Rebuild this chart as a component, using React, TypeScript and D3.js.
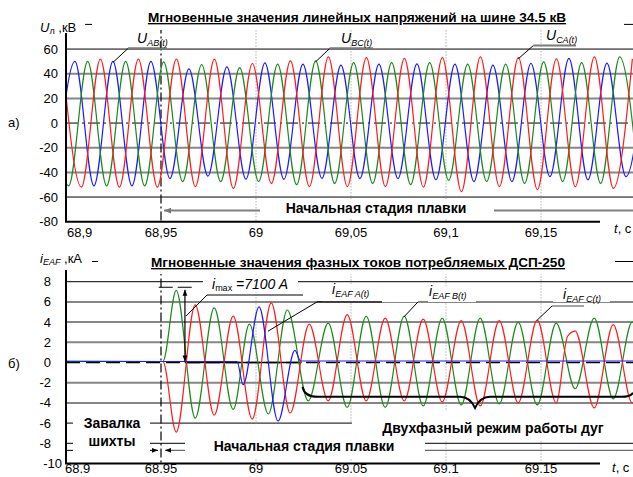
import React from 'react';
import * as d3 from 'd3';

type Pt = [number, number];

// time ticks
const tickTimes = [68.9, 68.95, 69, 69.05, 69.1, 69.15];
const tickLabelsU = ['68,9', '68,95', '69', '69,05', '69,1', '69,15'];
const tickLabelsI = ['68.9', '68.95', '69', '69.05', '69.1', '69.15'];
const uTicks = [80, 60, 40, 20, 0, -20, -40, -60, -80];
const iTicks = [10, 8, 6, 4, 2, 0, -2, -4, -6, -8, -10];

// line voltages, kV: extremum points [t, value]
const uAB: Pt[] = [
    [68.8947, -51], [68.9047, 50], [68.9147, -51], [68.9247, 50], [68.9347, -51], [68.9447, 50],
    [68.9547, -45], [68.9647, 44], [68.9747, -43], [68.9847, 45.5], [68.9947, -45.5], [69.0047, 48.8],
    [69.0147, -45.6], [69.0247, 47.8], [69.0347, -44.8], [69.0447, 47], [69.0547, -45], [69.0647, 47.8],
    [69.0747, -45], [69.0847, 48], [69.0947, -46], [69.1047, 47.8], [69.1147, -47.5], [69.1247, 47],
    [69.1347, -47.5], [69.1447, 48.5], [69.1547, -43.5], [69.1647, 52.4], [69.1747, -46], [69.1847, 48.6],
    [69.1947, -43.5], [69.2047, 48],
];
const uBC: Pt[] = [
    [68.8914, 50], [68.9014, -51], [68.9114, 50], [68.9214, -51], [68.9314, 50], [68.9414, -51],
    [68.9514, 49.6], [68.9614, -47.5], [68.9714, 47.5], [68.9814, -47.5], [68.9914, 45], [69.0014, -47.5],
    [69.0114, 47.8], [69.0214, -50], [69.0314, 50.5], [69.0414, -49], [69.0514, 49], [69.0614, -49],
    [69.0714, 49], [69.0814, -50], [69.0914, 49], [69.1014, -46.5], [69.1114, 47.8], [69.1214, -47.5],
    [69.1314, 47.8], [69.1414, -49], [69.1514, 49.6], [69.1614, -47.5], [69.1714, 49], [69.1814, -49],
    [69.1914, 53.7], [69.2014, -48],
];
const uCA: Pt[] = [
    [68.8981, 51], [68.9081, -52], [68.9181, 51.8], [68.9281, -52], [68.9381, 51.8], [68.9481, -52],
    [68.9581, 51.8], [68.9681, -51.5], [68.9781, 51.8], [68.9881, -53], [68.9981, 48.3], [69.0081, -49],
    [69.0181, 50.5], [69.0281, -51.5], [69.0381, 53.7], [69.0481, -51.5], [69.0581, 53], [69.0681, -51.5],
    [69.0781, 52.5], [69.0881, -52], [69.0981, 53], [69.1081, -55.6], [69.1181, 53.7], [69.1281, -51.5],
    [69.1381, 53], [69.1481, -54], [69.1581, 52], [69.1681, -51.5], [69.1781, 53.7], [69.1881, -53],
    [69.1981, 52],
];

// EAF phase currents, kA
const iA: Pt[] = [
    [68.9, 0.1], [68.99, 0.1], [68.9932, -2.2], [69.0016, 5.5], [69.0116, -5.8], [69.0205, 1.2],
    [69.0235, 0.15], [69.21, 0.15],
];
const iB: Pt[] = [
    [68.9, 0.15], [68.951, 0.1], [68.958, 7.15], [68.968, -5.5], [68.978, 5.4], [68.988, -4.65],
    [68.9965, 3.8], [69.0065, -5.1], [69.0165, 5.2], [69.0275, -3.8], [69.038, 3.9], [69.048, -4.45],
    [69.058, 4.6], [69.068, -4.45], [69.078, 4.6], [69.088, -4.3], [69.098, 4.4], [69.108, -4.2],
    [69.118, 4.4], [69.128, -4.1], [69.138, 4.0], [69.148, -4.2], [69.158, 3.9], [69.168, -2.6],
    [69.178, 4.4], [69.188, -3.6], [69.198, 4.0], [69.208, -4.0],
];
const iC: Pt[] = [
    [68.9, 0.1], [68.951, 0.1], [68.958, -6.9], [68.968, 5.7], [68.978, -5.2], [68.988, 4.6],
    [68.998, -5.6], [69.008, 5.9], [69.018, -5.0], [69.028, 3.8], [69.038, -3.8], [69.048, 4.75],
    [69.058, -3.8], [69.068, 4.4], [69.078, -3.8], [69.088, 4.3], [69.098, -3.9], [69.108, 4.15],
    [69.118, -4.3], [69.128, 4.15], [69.138, -4.0], [69.148, 4.2], [69.158, -4.0], [69.164, 2.6],
    [69.168, 3.1], [69.178, -4.5], [69.188, 3.75], [69.198, -4.0], [69.208, 3.8],
];

const uBlack = [80, 60, -60];
const iBlack = [10, 8, -6, -8];

const BLUE = '#1c1cff';
const GREEN = '#1b8a1b';
const RED = '#ff1c1c';
const GRID = '#868686';
const FONT = 'Arial, "Liberation Sans", sans-serif';

export default function App() {
    const x = d3.scaleLinear().domain([68.9, 69.2]).range([66, 636]);
    const yU = d3.scaleLinear().domain([-80, 80]).range([221.7, 24.4]);
    const yI = d3.scaleLinear().domain([-10, 10]).range([463.5, 261.5]);
    const lineU = d3.line<Pt>().x((d) => x(d[0])).y((d) => yU(d[1])).curve(d3.curveMonotoneX);
    const lineI = d3.line<Pt>().x((d) => x(d[0])).y((d) => yI(d[1])).curve(d3.curveMonotoneX);
    const x0 = x(68.9);
    const xEnd = 633;
    const axisEnd = 600;

    const grid = (ticks: number[], y: d3.ScaleLinear<number, number>, black: number[], zeroDash: string, zeroW: number) =>
        ticks.slice(0, -1).map((v) => {
            if (v === 0)
                return <line key={v} x1={x0} x2={xEnd} y1={y(0)} y2={y(0)} stroke="#000" strokeWidth={zeroW} strokeDasharray={zeroDash} />;
            const dark = black.includes(v);
            return <line key={v} x1={x0} x2={xEnd} y1={y(v)} y2={y(v)} stroke={dark ? '#000' : GRID} strokeWidth={dark ? 1 : 2} />;
        });

    const verticals = (y: d3.ScaleLinear<number, number>) =>
        tickTimes.slice(1).map((t) => {
            const [lo, hi] = y.domain();
            const dashDot = t === 68.95;
            return (
                <line
                    key={t}
                    x1={x(t)} x2={x(t)} y1={y(hi)} y2={y(lo)}
                    stroke={dashDot ? '#000' : '#8a8a8a'}
                    strokeWidth={dashDot ? 1.2 : 1}
                    strokeDasharray={dashDot ? '9,3,2,3' : '1,2'}
                />
            );
        });

    const sub = 9;

    return (
        <div style={{ position: 'absolute', left: 0, top: 0 }}>
            <svg width={633} height={477} style={{ display: 'block', background: '#fff' }} fontFamily={FONT}>
                <defs>
                    <clipPath id="clipU">
                        <rect x={x0} y={yU(80)} width={xEnd - x0} height={yU(-80) - yU(80)} />
                    </clipPath>
                    <clipPath id="clipI">
                        <rect x={x0} y={yI(10)} width={xEnd - x0} height={yI(-10) - yI(10)} />
                    </clipPath>
                    <marker id="ahBlack" viewBox="0 0 10 10" refX={10} refY={5} markerWidth={7} markerHeight={6} orient="auto-start-reverse" markerUnits="userSpaceOnUse">
                        <path d="M0,1L10,5L0,9z" fill="#000" />
                    </marker>
                    <marker id="ahGray" viewBox="0 0 10 10" refX={10} refY={5} markerWidth={9} markerHeight={7} orient="auto-start-reverse" markerUnits="userSpaceOnUse">
                        <path d="M0,1L10,5L0,9z" fill="#777" />
                    </marker>
                </defs>

                {/* ===== panel a) line voltages ===== */}
                <g>
                    {grid(uTicks, yU, uBlack, '12,4,2,4', 1)}
                    {verticals(yU)}
                    <g clipPath="url(#clipU)" fill="none" strokeWidth={1.2}>
                        <path d={lineU(uAB) || ''} stroke={BLUE} />
                        <path d={lineU(uBC) || ''} stroke={GREEN} />
                        <path d={lineU(uCA) || ''} stroke={RED} />
                    </g>
                    <line x1={x0} x2={x0} y1={yU(80)} y2={yU(-80)} stroke="#000" strokeWidth={2} />
                    <line x1={x0 - 1} x2={axisEnd} y1={yU(-80)} y2={yU(-80)} stroke="#000" strokeWidth={2} />
                    {uTicks.slice(1).map((v) => (
                        <text key={v} x={58} y={yU(v) + 4.5} fontSize={13} textAnchor="end">{v}</text>
                    ))}
                    {tickTimes.map((t, i) => (
                        <text key={t} x={i === 0 ? x0 + 1 : x(t)} y={237} fontSize={13} textAnchor={i === 0 ? 'start' : 'middle'}>
                            {tickLabelsU[i]}
                        </text>
                    ))}
                    <text x={614} y={233} fontSize={13}><tspan fontStyle="italic">t</tspan>, с</text>
                    <text x={8} y={127} fontSize={13}>а)</text>

                    {/* stage arrow */}
                    <line x1={xEnd} x2={x(68.95) + 3} y1={yU(-71)} y2={yU(-71)} stroke="#808080" strokeWidth={2} markerEnd="url(#ahGray)" />
                    <rect x={260} y={199} width={234} height={20} fill="#fff" />
                    <text x={376} y={213} fontSize={14} fontWeight="bold" textAnchor="middle">Начальная стадия плавки</text>

                    {/* header */}
                    <rect x={36} y={12} width={49} height={21} fill="#fff" />
                    <rect x={92} y={6} width={532} height={24} fill="#fff" />
                    <text x={40} y={32} fontSize={13}>
                        <tspan fontStyle="italic">U</tspan>
                        <tspan fontSize={sub} dy={2}>л</tspan>
                        <tspan dy={-2}> ,кВ</tspan>
                    </text>
                    <text x={357} y={22} fontSize={13.6} fontWeight="bold" textAnchor="middle" textDecoration="underline">
                        Мгновенные значения линейных напряжений на шине 34.5 кВ
                    </text>

                    {/* curve labels */}
                    <line x1={x(68.9247)} y1={yU(50) + 1} x2={x(68.9247) + 15} y2={48.5} stroke="#000" />
                    <line x1={x(68.9247) + 15} y1={48.5} x2={167} y2={48.5} stroke="#7a7a7a" strokeWidth={2.5} />
                    <text x={137} y={43} fontSize={14}>
                        <tspan fontStyle="italic">U</tspan>
                        <tspan fontStyle="italic" fontSize={sub} dy={3}>AB(t)</tspan>
                    </text>
                    <line x1={x(69.0314)} y1={yU(50.5) + 1} x2={x(69.0314) + 14} y2={48.5} stroke="#000" />
                    <line x1={x(69.0314) + 14} y1={48.5} x2={373} y2={48.5} stroke="#7a7a7a" strokeWidth={2.5} />
                    <text x={341} y={43} fontSize={14}>
                        <tspan fontStyle="italic">U</tspan>
                        <tspan fontStyle="italic" fontSize={sub} dy={3}>BC(t)</tspan>
                    </text>
                    <line x1={x(69.1381)} y1={yU(53) + 1} x2={x(69.1381) + 15} y2={45.5} stroke="#000" />
                    <line x1={x(69.1381) + 15} y1={45.5} x2={576} y2={45.5} stroke="#7a7a7a" strokeWidth={2} />
                    <text x={546} y={40} fontSize={14}>
                        <tspan fontStyle="italic">U</tspan>
                        <tspan fontStyle="italic" fontSize={sub} dy={3}>CA(t)</tspan>
                    </text>
                </g>

                {/* ===== panel б) EAF currents ===== */}
                <g>
                    {grid(iTicks, yI, iBlack, '14,6', 1.5)}
                    {verticals(yI)}
                    <line x1={x(68.9625)} x2={x(69.024)} y1={yI(0)} y2={yI(0)} stroke="#000" strokeWidth={1.5} />
                    <g clipPath="url(#clipI)" fill="none" strokeWidth={1.2}>
                        <path d={lineI(iB) || ''} stroke={GREEN} />
                        <path d={lineI(iC) || ''} stroke={RED} />
                        <path d={lineI(iA) || ''} stroke={BLUE} />
                    </g>
                    <line x1={x0} x2={x0} y1={yI(10)} y2={yI(-10)} stroke="#000" strokeWidth={2} />
                    <line x1={x0 - 1} x2={axisEnd} y1={yI(-10)} y2={yI(-10)} stroke="#000" strokeWidth={2} />
                    {iTicks.slice(1).map((v, i, arr) => (
                        <text key={v} x={i === arr.length - 1 ? 62 : 51} y={yI(v) + 4.5} fontSize={13} textAnchor="end">{v}</text>
                    ))}
                    {tickTimes.map((t, i) => (
                        <text key={t} x={i === 0 ? x0 - 1 : x(t)} y={473} fontSize={13} textAnchor={i === 0 ? 'start' : 'middle'}>
                            {tickLabelsI[i]}
                        </text>
                    ))}
                    <text x={612} y={472} fontSize={13}><tspan fontStyle="italic">t</tspan>, с</text>
                    <text x={8} y={368} fontSize={13}>б)</text>

                    {/* imax marker */}
                    <line x1={x(68.9488)} x2={x(68.9665)} y1={yI(7.45)} y2={yI(7.45)} stroke="#000" strokeDasharray="14,5" />
                    <line x1={x(68.9626)} x2={x(68.9626)} y1={yI(0.1)} y2={yI(7.2)} stroke="#000" strokeWidth={1.2} markerStart="url(#ahBlack)" markerEnd="url(#ahBlack)" />

                    {/* stage arrows */}
                    <line x1={x0} x2={x(68.95) - 3} y1={yI(-8.7)} y2={yI(-8.7)} stroke="#000" markerEnd="url(#ahBlack)" />
                    <line x1={xEnd} x2={x(68.95) + 4} y1={yI(-8.7)} y2={yI(-8.7)} stroke="#6a6a6a" strokeWidth={1.3} markerEnd="url(#ahBlack)" />

                    {/* two-phase brace */}
                    <path
                        d={`M${x(69.0245)},${yI(-2.4)} Q${x(69.0255)},${yI(-3.4)} ${x(69.0325)},${yI(-3.4)} L${x(69.1075)},${yI(-3.4)} Q${x(69.1125)},${yI(-3.4)} ${x(69.1153)},${yI(-4.5)} Q${x(69.118)},${yI(-3.4)} ${x(69.123)},${yI(-3.4)} L${x(69.1925)},${yI(-3.4)} Q${x(69.197)},${yI(-3.4)} ${xEnd},${yI(-3.0)}`}
                        fill="none" stroke="#000" strokeWidth={2}
                    />

                    {/* text boxes */}
                    <rect x={73} y={412} width={77} height={44} fill="#fff" />
                    <rect x={185} y={424} width={240} height={34} fill="#fff" />
                    <rect x={352} y={411} width={281} height={30} fill="#fff" />
                    <text x={112} y={428} fontSize={14} fontWeight="bold" textAnchor="middle">Завалка</text>
                    <text x={112} y={446} fontSize={14} fontWeight="bold" textAnchor="middle">шихты</text>
                    <text x={304} y={451} fontSize={14} fontWeight="bold" textAnchor="middle">Начальная стадия плавки</text>
                    <text x={493} y={433} fontSize={14} fontWeight="bold" textAnchor="middle">Двухфазный режим работы дуг</text>

                    {/* header */}
                    <rect x={36} y={248} width={56} height={22} fill="#fff" />
                    <rect x={98} y={248} width={517} height={26} fill="#fff" />
                    <text x={40} y={263} fontSize={13}>
                        <tspan fontStyle="italic">i</tspan>
                        <tspan fontStyle="italic" fontSize={sub} dy={2}>EAF</tspan>
                        <tspan dy={-2}> ,кА</tspan>
                    </text>
                    <text x={358} y={267} fontSize={13.6} fontWeight="bold" textAnchor="middle" textDecoration="underline">
                        Мгновенные значения фазных токов потребляемых ДСП-250
                    </text>

                    {/* imax label */}
                    <rect x={203} y={276} width={95} height={16} fill="#fff" />
                    <line x1={x(68.9632)} y1={yI(4.6)} x2={207} y2={295} stroke="#000" />
                    <line x1={207} y1={295} x2={303} y2={295} stroke="#555" strokeWidth={1.3} />
                    <text x={212} y={289} fontSize={14}>
                        <tspan fontStyle="italic">i</tspan>
                        <tspan fontSize={sub} dy={2}>max</tspan>
                        <tspan fontStyle="italic" dy={-2}> =7100 A</tspan>
                    </text>

                    {/* phase labels */}
                    <rect x={322} y={285} width={99} height={17} fill="#fff" />
                    <line x1={x(69.0063)} y1={yI(3.1)} x2={317} y2={yI(6)} stroke="#000" />
                    <line x1={317} y1={yI(6)} x2={382} y2={yI(6)} stroke="#000" strokeWidth={1.3} />
                    <text x={332} y={294} fontSize={14}>
                        <tspan fontStyle="italic">i</tspan>
                        <tspan fontStyle="italic" fontSize={sub} dy={3}>EAF A(t)</tspan>
                    </text>

                    <rect x={428} y={286} width={48} height={16} fill="#fff" />
                    <line x1={x(69.0778)} y1={yI(4.5)} x2={418} y2={yI(6)} stroke="#000" />
                    <line x1={418} y1={yI(6)} x2={428} y2={yI(6)} stroke={GRID} strokeWidth={2} />
                    <text x={429} y={296} fontSize={14}>
                        <tspan fontStyle="italic">i</tspan>
                        <tspan fontStyle="italic" fontSize={sub} dy={3}>EAF B(t)</tspan>
                    </text>

                    <rect x={553} y={288} width={57} height={14} fill="#fff" />
                    <line x1={x(69.148)} y1={yI(4.2)} x2={552} y2={306} stroke="#000" />
                    <line x1={552} y1={306} x2={584} y2={306} stroke={GRID} strokeWidth={1.5} />
                    <text x={563} y={299} fontSize={14}>
                        <tspan fontStyle="italic">i</tspan>
                        <tspan fontStyle="italic" fontSize={sub} dy={3}>EAF C(t)</tspan>
                    </text>
                </g>
            </svg>
        </div>
    );
}
